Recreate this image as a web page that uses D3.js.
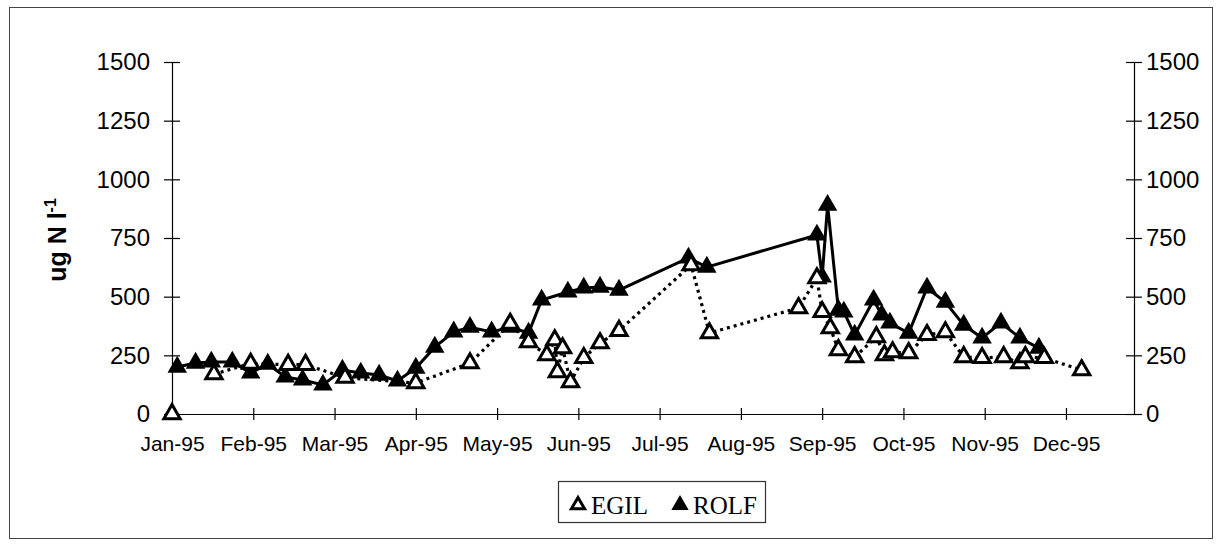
<!DOCTYPE html>
<html>
<head>
<meta charset="utf-8">
<script src="https://cdn.jsdelivr.net/npm/d3@7"></script>
<style>
  body { margin: 0; background: #fff; }
  svg { display: block; }
</style>
</head>
<body>
<div id="chart"></div>
<script>
// Chart data
const monthLabels = ["Jan-95","Feb-95","Mar-95","Apr-95","May-95","Jun-95",
                     "Jul-95","Aug-95","Sep-95","Oct-95","Nov-95","Dec-95"];
const yTicks = [0, 250, 500, 750, 1000, 1250, 1500];
const seriesNames = ["EGIL", "ROLF"];

const egilDates = ["1995-01-01","1995-01-10","1995-01-17","1995-01-31","1995-02-13","1995-02-19",
  "1995-03-05","1995-04-01","1995-04-21","1995-05-06","1995-05-13","1995-05-20","1995-05-23",
  "1995-05-24","1995-05-26","1995-05-29","1995-06-03","1995-06-09","1995-06-16","1995-07-13",
  "1995-07-20","1995-08-23","1995-08-30","1995-09-01","1995-09-04","1995-09-07","1995-09-13",
  "1995-09-21","1995-09-24","1995-09-27","1995-10-03","1995-10-10","1995-10-17","1995-10-24",
  "1995-10-31","1995-11-08","1995-11-14","1995-11-16","1995-11-23","1995-12-07"];
const egilValues = [0, null, 170, 215, 210, 210,
  155, 132, 217, 385, 307, 251, 315,
  179, 281, 136, 239, 302, 355, 635,
  345, 452, 579, 435, 366, 273, 243,
  328, 251, 264, 260, 337, 349, 243,
  239, 243, 217, 243, 239, 187];

const rolfDates = ["1995-01-03","1995-01-10","1995-01-16","1995-01-24","1995-01-31","1995-02-06",
  "1995-02-12","1995-02-18","1995-02-25","1995-03-04","1995-03-11","1995-03-18","1995-03-25",
  "1995-04-01","1995-04-08","1995-04-15","1995-04-21","1995-04-29","1995-05-06","1995-05-13",
  "1995-05-18","1995-05-28","1995-06-03","1995-06-09","1995-06-16","1995-07-12","1995-07-19",
  "1995-08-30","1995-09-01","1995-09-03","1995-09-07","1995-09-09","1995-09-13","1995-09-20",
  "1995-09-23","1995-09-26","1995-10-03","1995-10-10","1995-10-17","1995-10-24","1995-10-31",
  "1995-11-07","1995-11-14","1995-11-21"];
const rolfValues = [200, 217, 222, 222, 175, 213,
  158, 145, 124, 187, 175, 166, 141,
  196, 285, 350, 370, 350, 370, 345,
  486, 520, 537, 541, 528, 665, 626,
  763, 584, 890, 443, 435, 337, 486,
  422, 388, 345, 537, 477, 379, 324,
  388, 324, 281];

const width = 1220, height = 545;
const plot = { left: 172, right: 1134, top: 62, bottom: 414 };

const parse = d3.timeParse("%Y-%m-%d");
const egil = egilDates.map((d, i) => ({ date: parse(d), value: egilValues[i] }));
const rolf = rolfDates.map((d, i) => ({ date: parse(d), value: rolfValues[i] }));

const svg = d3.select("#chart").append("svg")
  .attr("width", width)
  .attr("height", height);

// outer frame
svg.append("rect")
  .attr("x", 9.5).attr("y", 7.5)
  .attr("width", 1203).attr("height", 531)
  .attr("fill", "none")
  .attr("stroke", "#444")
  .attr("stroke-width", 1);

// month ticks are evenly spaced in the original, so use a polylinear time scale
const monthStarts = d3.range(12).map(m => new Date(1995, m, 1));
const step = 81.27;
const x = d3.scaleTime()
  .domain(monthStarts.concat([new Date(1995, 11, 27)]))
  .range(monthStarts.map((d, i) => plot.left + i * step).concat([plot.right]));

const y = d3.scaleLinear()
  .domain([0, 1500])
  .range([plot.bottom, plot.top]);

// axes
const xAxis = svg.append("g")
  .attr("transform", "translate(0," + plot.bottom + ")")
  .call(d3.axisBottom(x).tickValues(monthStarts).tickFormat((d, i) => monthLabels[i]).tickSize(6).tickSizeOuter(0));
xAxis.selectAll(".tick line").attr("y1", -6).attr("y2", 6);
xAxis.selectAll(".tick text")
  .attr("y", 22)
  .style("font-family", "Liberation Sans, Arial, sans-serif")
  .style("font-size", "21px")
  .attr("fill", "#000");

const yLeft = svg.append("g")
  .attr("transform", "translate(" + plot.left + ",0)")
  .call(d3.axisLeft(y).tickValues(yTicks).tickFormat(d3.format("d")).tickSize(8).tickSizeOuter(0).tickPadding(14));
yLeft.selectAll(".tick line").attr("x1", -8).attr("x2", 8);

const yRight = svg.append("g")
  .attr("transform", "translate(" + plot.right + ",0)")
  .call(d3.axisRight(y).tickValues(yTicks).tickFormat(d3.format("d")).tickSize(8).tickSizeOuter(0).tickPadding(4));
yRight.selectAll(".tick line").attr("x1", -8).attr("x2", 8);

[yLeft, yRight].forEach(g => {
  g.selectAll(".tick text")
    .style("font-family", "Liberation Sans, Arial, sans-serif")
    .style("font-size", "24px")
    .attr("fill", "#000");
});
[xAxis, yLeft, yRight].forEach(g => {
  g.select(".domain").attr("stroke", "#000").attr("stroke-width", 1.2);
  g.selectAll(".tick line").attr("stroke", "#000").attr("stroke-width", 1.2);
});

// y axis title
const yTitle = svg.append("text")
  .attr("transform", "translate(66,240) rotate(-90)")
  .attr("text-anchor", "middle")
  .style("font-family", "Liberation Sans, Arial, sans-serif")
  .style("font-size", "25px")
  .style("font-weight", "bold");
yTitle.append("tspan").text("ug N l");
yTitle.append("tspan").attr("dy", -10).style("font-size", "16px").text("-1");

// lines
const line = d3.line()
  .defined(d => d.value != null)
  .x(d => x(d.date))
  .y(d => y(d.value));

const triangle = d3.symbol().type(d3.symbolTriangle);

// ROLF first (EGIL markers sit on top in the original)
svg.append("path")
  .datum(rolf)
  .attr("d", line)
  .attr("fill", "none")
  .attr("stroke", "#000")
  .attr("stroke-width", 3);

svg.append("g")
  .selectAll("path")
  .data(rolf)
  .enter().append("path")
    .attr("transform", d => "translate(" + x(d.date) + "," + y(d.value) + ")")
    .attr("d", triangle.size(165)())
    .attr("fill", "#000");

svg.append("path")
  .datum(egil)
  .attr("d", line)
  .attr("fill", "none")
  .attr("stroke", "#000")
  .attr("stroke-width", 3.2)
  .attr("stroke-dasharray", "3,4");

svg.append("g")
  .selectAll("path")
  .data(egil.filter(d => d.value != null))
  .enter().append("path")
    .attr("transform", d => "translate(" + x(d.date) + "," + y(d.value) + ")")
    .attr("d", triangle.size(115)())
    .attr("fill", "#fff")
    .attr("stroke", "#000")
    .attr("stroke-width", 3);

// legend
const legend = svg.append("g").attr("transform", "translate(558,481)");
legend.append("rect")
  .attr("x", 0.5).attr("y", 0.5)
  .attr("width", 207).attr("height", 41)
  .attr("fill", "#fff")
  .attr("stroke", "#333")
  .attr("stroke-width", 1.2);

const legendItems = legend.selectAll("g.item")
  .data(seriesNames)
  .enter().append("g")
    .attr("class", "item")
    .attr("transform", (d, i) => "translate(" + (20 + i * 102) + ",24)");

legendItems.append("path")
  .attr("d", (d, i) => triangle.size(i === 0 ? 75 : 130)())
  .attr("fill", (d, i) => i === 0 ? "#fff" : "#000")
  .attr("stroke", "#000")
  .attr("stroke-width", (d, i) => i === 0 ? 3 : 0);

legendItems.append("text")
  .attr("x", 13)
  .attr("y", 9)
  .text(d => d)
  .style("font-family", "Liberation Serif, Times New Roman, serif")
  .style("font-size", "25px")
  .attr("fill", "#000");
</script>
</body>
</html>
